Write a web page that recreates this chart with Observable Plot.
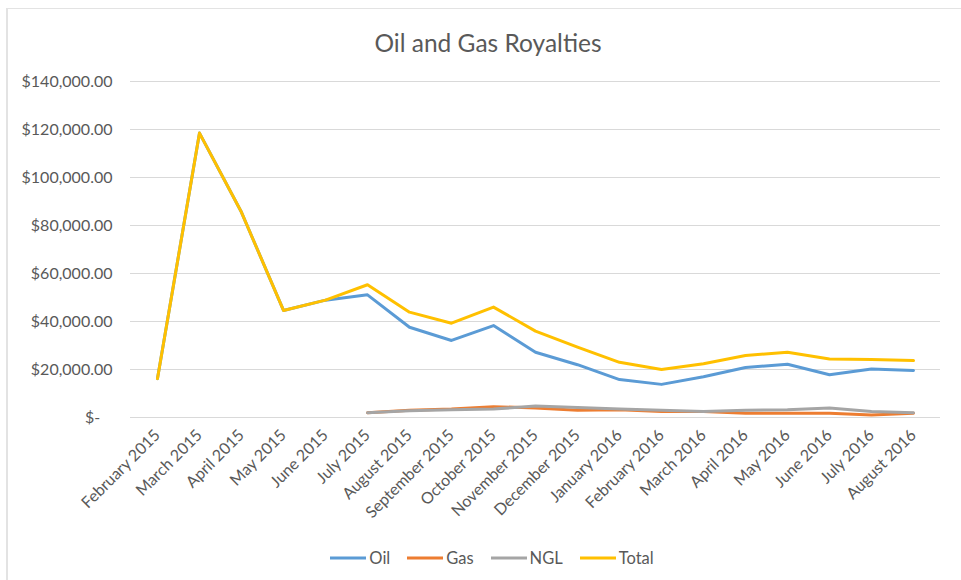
<!DOCTYPE html>
<html><head><meta charset="utf-8">
<script src="https://cdn.jsdelivr.net/npm/d3@7"></script>
<script src="https://cdn.jsdelivr.net/npm/@observablehq/plot@0.6"></script>
<style>
body{margin:0;background:#fff;font-family:Lato,"Open Sans",sans-serif;width:961px;height:580px;overflow:hidden;position:relative;}
#frame{position:absolute;left:6px;top:8px;width:970px;height:600px;border-top:1px solid #e3e3e3;border-left:2px solid #e3e3e3;}
#title{position:absolute;top:28px;left:0;width:976px;text-align:center;font-size:24.5px;color:#595959;}
#chart{position:absolute;top:60px;left:0;}
#legend{position:absolute;top:548px;left:0;width:983px;display:flex;justify-content:center;gap:16px;font-size:16.5px;color:#595959;}
.item{display:flex;align-items:center;gap:2px;}
</style></head>
<body>
<div id="frame"></div>
<div id="title">Oil and Gas Royalties</div>
<div id="chart"></div>
<div id="legend"></div>
<script>
const months = ["February 2015","March 2015","April 2015","May 2015","June 2015","July 2015","August 2015","September 2015","October 2015","November 2015","December 2015","January 2016","February 2016","March 2016","April 2016","May 2016","June 2016","July 2016","August 2016"];
const oil   = [16200,118500,85500,44600,48900,51100,37600,32100,38300,27200,22000,15800,13800,17000,20800,22200,17800,20200,19600];
const gas   = [null,null,null,null,null,2000,3000,3500,4500,4000,3000,3200,2500,2500,1800,1800,1800,1000,1800];
const ngl   = [null,null,null,null,null,2000,2800,3200,3500,4800,4200,3500,3000,2500,3000,3200,4000,2500,2000];
const total = [16200,118500,85500,44600,48900,55300,43900,39300,46000,36000,29300,23000,20000,22400,25800,27200,24400,24200,23700];
const seriesNames = ["Oil","Gas","NGL","Total"];
const seriesColors = ["#5B9BD5","#ED7D31","#A5A5A5","#FFC000"];
const yTicks = [0,20000,40000,60000,80000,100000,120000,140000];

const seriesValues = [oil, gas, ngl, total];
const rows = seriesNames.map((name, s) =>
  months.map((m, i) => ({month: m, series: name, value: seriesValues[s][i]})).filter(d => d.value != null)
);

const fmt = v => v === 0 ? "$-\u00a0\u00a0\u00a0" : "$" + d3.format(",.2f")(v);

const chart = Plot.plot({
  width: 961,
  height: 460,
  marginLeft: 130,
  marginRight: 21,
  marginTop: 21,
  marginBottom: 103,
  style: {fontFamily: "Lato, 'Open Sans', sans-serif", fontSize: "16px", color: "#595959", background: "transparent"},
  x: {type: "point", domain: months, padding: 0.5, label: null},
  y: {domain: [0, 140000], label: null},
  color: {domain: seriesNames, range: seriesColors},
  marks: [
    Plot.ruleY(yTicks, {stroke: "#d9d9d9", strokeWidth: 1}),
    Plot.axisY({ticks: yTicks, tickSize: 0, tickPadding: 18, tickFormat: fmt, fill: "#595959"}),
    Plot.axisX({tickSize: 0, tickRotate: -45, tickPadding: 15, fill: "#595959"}),
    ...rows.map(r => Plot.line(r, {x: "month", y: "value", stroke: "series", strokeWidth: 3, strokeLinejoin: "round", strokeLinecap: "round"}))
  ]
});
document.getElementById("chart").appendChild(chart);

const legend = d3.select("#legend");
seriesNames.forEach((n, i) => {
  const it = legend.append("div").attr("class", "item");
  it.append("svg").attr("width", 38).attr("height", 6)
    .append("line").attr("x1", 1).attr("x2", 37).attr("y1", 3).attr("y2", 3)
    .attr("stroke", seriesColors[i]).attr("stroke-width", 3);
  it.append("span").text(n);
});
</script>
</body></html>
